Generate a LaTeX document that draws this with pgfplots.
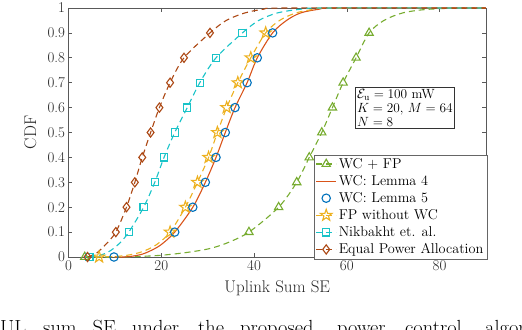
\RequirePackage{fix-cm}
\documentclass[border=0pt]{standalone}
\usepackage{pgfplots}
\pgfplotsset{compat=1.18}

\definecolor{cGreen}{rgb}{0.466,0.674,0.188}
\definecolor{cOrange}{rgb}{0.85,0.325,0.098}
\definecolor{cBlue}{rgb}{0,0.447,0.741}
\definecolor{cYellow}{rgb}{0.929,0.694,0.125}
\definecolor{cCyan}{RGB}{25,195,200}
\definecolor{cBrown}{RGB}{172,72,20}

% five-pointed star outline (MATLAB pentagram)
\pgfdeclareplotmark{pent}{%
  \pgfpathmoveto{\pgfpointpolar{90}{\pgfplotmarksize}}%
  \pgfpathlineto{\pgfpointpolar{126}{0.4\pgfplotmarksize}}%
  \pgfpathlineto{\pgfpointpolar{162}{\pgfplotmarksize}}%
  \pgfpathlineto{\pgfpointpolar{198}{0.4\pgfplotmarksize}}%
  \pgfpathlineto{\pgfpointpolar{234}{\pgfplotmarksize}}%
  \pgfpathlineto{\pgfpointpolar{270}{0.4\pgfplotmarksize}}%
  \pgfpathlineto{\pgfpointpolar{306}{\pgfplotmarksize}}%
  \pgfpathlineto{\pgfpointpolar{342}{0.4\pgfplotmarksize}}%
  \pgfpathlineto{\pgfpointpolar{18}{\pgfplotmarksize}}%
  \pgfpathlineto{\pgfpointpolar{54}{0.4\pgfplotmarksize}}%
  \pgfpathclose\pgfusepathqstroke}

\tikzset{mdash/.style={dash pattern=on 6bp off 4bp}}

\begin{document}
\begin{tikzpicture}
\useasboundingbox (-68.5bp,-73bp) rectangle (453.5bp,257bp);
\clip (-68.5bp,-73bp) rectangle (453.5bp,257bp);
\begin{axis}[
    scale only axis,
    width=417.5bp,
    height=249bp,
    xmin=0, xmax=90,
    ymin=0, ymax=1,
    xtick={0,20,40,60,80},
    ytick={0,0.1,0.2,0.3,0.4,0.5,0.6,0.7,0.8,0.9,1},
    yticklabel style={/pgf/number format/fixed},
    /pgf/number format/assume math mode=true,
    tick label style={font=\fontsize{15}{18}\selectfont, text=black!85},
    axis line style={black!65},
    tick style={black!65, line width=0.6bp},
    major tick length=4bp,
    xlabel={Uplink Sum SE},
    ylabel={CDF},
    label style={font=\fontsize{17}{20}\selectfont, text=black!85},
    xlabel style={at={(axis description cs:0.5,-0.1406)}, anchor=base},
    ylabel style={at={(axis description cs:-0.0778,0.5)}, anchor=base},
    legend image code/.code={%
        \draw[mark repeat=2,mark phase=2,#1]
        plot coordinates {(0bp,0bp) (10bp,0bp) (20bp,0bp)};},
    legend style={
        at={(rel axis cs:1.0024,-0.008)}, anchor=south east,
        font=\fontsize{14.3}{17}\selectfont,
        draw=black!60, fill=white,
        inner sep=1.5bp, row sep=1.6bp,
        cells={anchor=west},
    },
    every axis plot/.append style={line width=1.1bp},
]

% WC + FP
\addplot[cGreen, mdash, smooth, forget plot] coordinates {
    (3.5,0) (10,0) (15,0.002) (20,0.007) (25,0.017) (30,0.032) (34,0.055)
    (38.9,0.1) (45.3,0.2) (49.2,0.3) (51.9,0.4) (54.6,0.5) (56.9,0.6)
    (59.2,0.7) (62.0,0.8) (64.8,0.9) (68,0.95) (72,0.98) (77,0.994)
    (84,1) (90,1)
};
\addplot[cGreen, only marks, mark=triangle, mark size=4.8bp, forget plot] coordinates {
    (3.5,0) (38.9,0.1) (45.3,0.2) (49.2,0.3) (51.9,0.4) (54.6,0.5)
    (56.9,0.6) (59.2,0.7) (62.0,0.8) (64.8,0.9)
};

% WC: Lemma 4
\addplot[cOrange, smooth, forget plot] coordinates {
    (10,0) (12,0) (14,0.004) (16,0.012) (18,0.028) (20,0.05) (22.9,0.1)
    (26.8,0.2) (29.5,0.3) (31.8,0.4) (33.8,0.5) (35.9,0.6) (38.5,0.7)
    (40.7,0.8) (44.0,0.9) (47,0.95) (50,0.98) (54,0.995) (58,1) (90,1)
};

% FP without WC
\addplot[cYellow, mdash, smooth, forget plot] coordinates {
    (6,0) (10,0.002) (13,0.008) (16,0.022) (19,0.05) (21.9,0.1)
    (25.2,0.2) (27.8,0.3) (30.2,0.4) (32.1,0.5) (34.1,0.6) (36.5,0.7)
    (39.3,0.8) (42.5,0.9) (45.5,0.95) (49,0.98) (53,0.995) (57,1) (90,1)
};
\addplot[cYellow, only marks, mark=pent, mark size=6bp, forget plot] coordinates {
    (6.6,0) (21.9,0.1) (25.2,0.2) (27.8,0.3) (30.2,0.4) (32.1,0.5)
    (34.1,0.6) (36.5,0.7) (39.3,0.8) (42.5,0.9)
};

% WC: Lemma 5
\addplot[cBlue, only marks, mark=o, mark size=4.2bp, forget plot] coordinates {
    (9.8,0) (22.9,0.1) (26.8,0.2) (29.5,0.3) (31.8,0.4) (33.8,0.5)
    (35.9,0.6) (38.5,0.7) (40.7,0.8) (44.0,0.9)
};

% Nikbakht et. al.
\addplot[cCyan, mdash, smooth, forget plot] coordinates {
    (4.5,0) (7,0.008) (9,0.025) (11,0.055) (13.0,0.1) (16.2,0.2)
    (18.6,0.3) (20.6,0.4) (22.9,0.5) (25.6,0.6) (28.3,0.7) (31.8,0.8)
    (37.5,0.9) (41,0.95) (45,0.98) (50,0.995) (55,1) (90,1)
};
\addplot[cCyan, only marks, mark=square, mark size=3.6bp, forget plot] coordinates {
    (4.5,0) (13.0,0.1) (16.2,0.2) (18.6,0.3) (20.6,0.4) (22.9,0.5)
    (25.6,0.6) (28.3,0.7) (31.8,0.8) (37.5,0.9)
};

% Equal Power Allocation
\addplot[cBrown, mdash, smooth, forget plot] coordinates {
    (4.1,0) (6,0.015) (8,0.05) (10.2,0.1) (12.5,0.2) (14.3,0.3)
    (15.9,0.4) (17.7,0.5) (19.6,0.6) (21.9,0.7) (24.9,0.8) (30.5,0.9)
    (34,0.95) (38,0.98) (42,0.995) (47,1) (90,1)
};
\addplot[cBrown, only marks, mark=diamond, mark size=4.6bp, forget plot] coordinates {
    (4.1,0) (10.2,0.1) (12.5,0.2) (14.3,0.3) (15.9,0.4) (17.7,0.5)
    (19.6,0.6) (21.9,0.7) (24.9,0.8) (30.5,0.9)
};

\addlegendimage{cGreen, line width=1.1bp, mdash, mark=triangle, mark size=4.8bp, mark options={solid}}
\addlegendentry{WC + FP}
\addlegendimage{cOrange, line width=1.1bp}
\addlegendentry{WC: Lemma 4}
\addlegendimage{cBlue, line width=1.1bp, only marks, mark=o, mark size=4.2bp}
\addlegendentry{WC: Lemma 5}
\addlegendimage{cYellow, line width=1.1bp, mdash, mark=pent, mark size=6bp, mark options={solid}}
\addlegendentry{FP without WC}
\addlegendimage{cCyan, line width=1.1bp, mdash, mark=square, mark size=3.6bp, mark options={solid}}
\addlegendentry{Nikbakht et. al.}
\addlegendimage{cBrown, line width=1.1bp, mdash, mark=diamond, mark size=4.6bp, mark options={solid}}
\addlegendentry{Equal Power Allocation}

\node[draw=black!80, fill=white, anchor=north west, align=left,
      inner sep=2bp, font=\fontsize{13.4}{14}\selectfont]
    at (rel axis cs:0.6862,0.6827)
    {$\mathcal{E}_{\mathrm{u}} = 100$ mW\\ $K=20$, $M=64$\\ $N=8$};
\end{axis}

\begin{scope}[font=\fontsize{20.5}{24}\selectfont]
\node[anchor=base west, inner sep=0] at (-68.5bp,-77bp) {UL};
\node[anchor=base west, inner sep=0] at (-25.5bp,-77bp) {sum};
\node[anchor=base west, inner sep=0] at (24.0bp,-77bp) {SE};
\node[anchor=base west, inner sep=0] at (63.5bp,-77bp) {under};
\node[anchor=base west, inner sep=0] at (129.5bp,-77bp) {the};
\node[anchor=base west, inner sep=0] at (171.5bp,-77bp) {proposed};
\node[anchor=base west, inner sep=0] at (268.5bp,-77bp) {power};
\node[anchor=base west, inner sep=0] at (336.5bp,-77bp) {control};
\node[anchor=base west, inner sep=0] at (416.5bp,-77bp) {algorithm};
\end{scope}
\end{tikzpicture}
\end{document}
